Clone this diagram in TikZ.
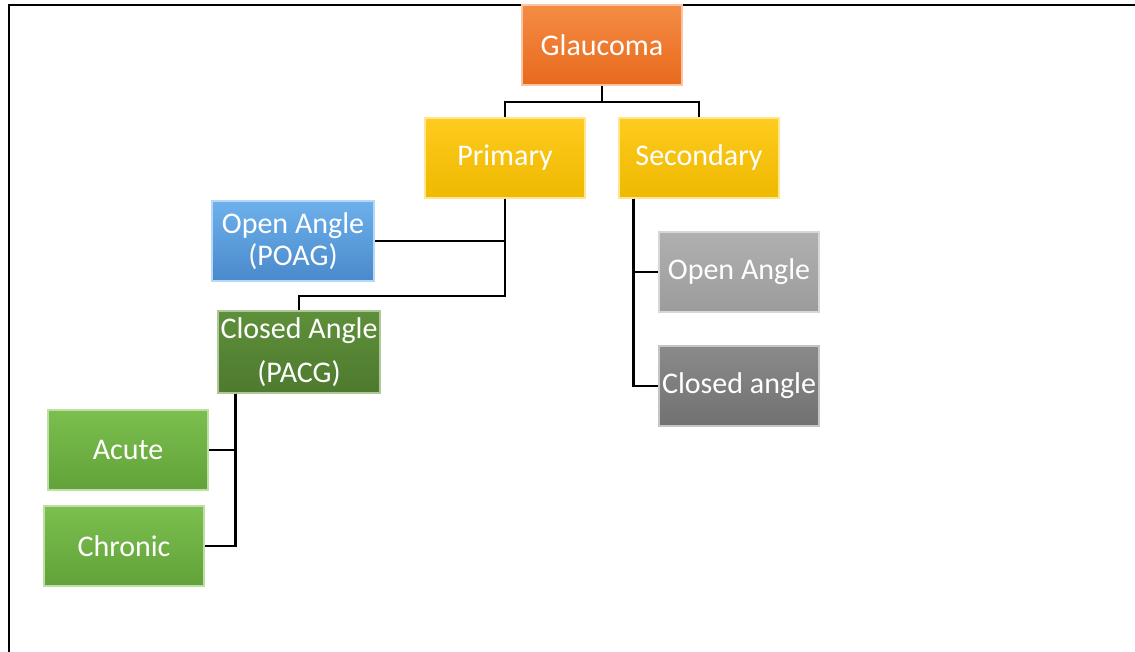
\documentclass[tikz,border=0pt]{standalone}
\usepackage{fontspec}
\setmainfont{Carlito}
\definecolor{orangetop}{HTML}{F48C45}
\definecolor{orangebot}{HTML}{E86A1C}
\definecolor{yellowtop}{HTML}{FFCB1F}
\definecolor{yellowbot}{HTML}{EDB900}
\definecolor{bluetop}{HTML}{6DB0EB}
\definecolor{bluebot}{HTML}{4A89CB}
\definecolor{dgreentop}{HTML}{5E8F3A}
\definecolor{dgreenbot}{HTML}{4E7A2E}
\definecolor{greentop}{HTML}{7BBF4E}
\definecolor{greenbot}{HTML}{62A23A}
\definecolor{greytop}{HTML}{B0B0B0}
\definecolor{greybot}{HTML}{9C9C9C}
\definecolor{dgreytop}{HTML}{8A8A8A}
\definecolor{dgreybot}{HTML}{717171}
\begin{document}
\begin{tikzpicture}[x=1pt,y=-1pt,
		box/.style={minimum width=160pt, minimum height=80pt, inner sep=0pt, align=center, text=white, font=\fontsize{30}{32}\selectfont, line width=1.2pt},
		orangebox/.style={box, top color=orangetop, bottom color=orangebot, draw=orangetop!50!white},
		yellowbox/.style={box, top color=yellowtop, bottom color=yellowbot, draw=yellowtop!50!white},
		bluebox/.style={box, top color=bluetop, bottom color=bluebot, draw=bluetop!50!white},
		dgreenbox/.style={box, top color=dgreentop, bottom color=dgreenbot, draw=dgreentop!50!white},
		greenbox/.style={box, top color=greentop, bottom color=greenbot, draw=greentop!50!white},
		greybox/.style={box, top color=greytop, bottom color=greybot, draw=greytop!50!white},
		dgreybox/.style={box, top color=dgreytop, bottom color=dgreybot, draw=dgreytop!50!white},
		link/.style={line width=2.8pt}]
		\clip (0,0) rectangle (1135,652);
		\draw[line width=2pt] (9,5) rectangle (1150,670);
		
		\node (glaucoma) [orangebox] at (602,45) {Glaucoma};
		\node (primary) [yellowbox] at (505,158) {Primary};
		\node (secondary) [yellowbox] at (699,158) {Secondary};
		\node (poag) [bluebox, minimum width=162pt] at (293,241) {Open Angle\\(POAG)};
		\node (pacg) [dgreenbox, minimum width=162pt, minimum height=82pt] at (299,352) {Closed Angle\\[12pt](PACG)};
		\node (oag) [greybox] at (739,272) {Open Angle};
		\node (cag) [dgreybox] at (739,386) {Closed angle};
		\node (acute) [greenbox] at (128,450) {Acute};
		\node (chronic) [greenbox] at (124,546) {Chronic};
		
		\coordinate (split) at (602,102);
		\coordinate (bend) at (299,296);
		\draw[link] (glaucoma.south) -- (split);
		\draw[link] (split) -| (primary.north);
		\draw[link] (split) -| (secondary.north);
		\draw[link] (primary.south) |- (poag.east);
		\draw[link] (primary.south) |- (bend) -- (pacg.north);
		\draw[link] ([xshift=15pt]secondary.south west) |- (oag.west);
		\draw[link] ([xshift=15pt]secondary.south west) |- (cag.west);
		\draw[link] ([xshift=18pt]pacg.south west) |- (acute.east);
		\draw[link] ([xshift=18pt]pacg.south west) |- (chronic.east);
	\end{tikzpicture}
\end{document}
